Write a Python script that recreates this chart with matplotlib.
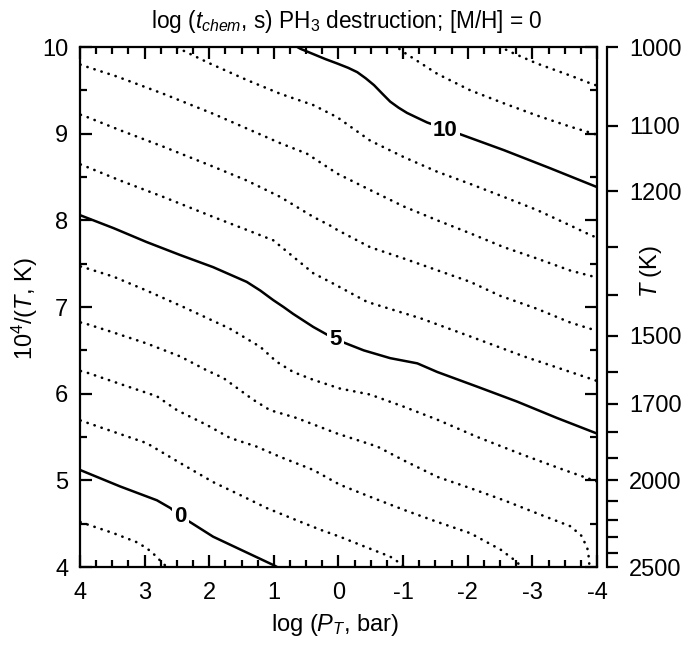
import matplotlib
matplotlib.use('Agg')
import matplotlib.pyplot as plt
import numpy as np

plt.rcParams['font.family'] = ['Liberation Sans', 'DejaVu Sans']
plt.rcParams['mathtext.fontset'] = 'custom'
plt.rcParams['mathtext.rm'] = 'Liberation Sans'
plt.rcParams['mathtext.it'] = 'Liberation Sans:italic'
plt.rcParams['mathtext.bf'] = 'Liberation Sans:bold'
plt.rcParams['axes.unicode_minus'] = False

# ---------------- data: contour lines of log(t_chem, s) ----------------
# each level: log P (bar) samples and the 10^4/T value of the contour there
lp_m1 = [4.1, 4.0, 3.48, 3.1, 2.9, 2.7, 2.6]
y_m1 = [4.55, 4.52, 4.39, 4.28, 4.18, 4.03, 3.97]

lp_0 = [4.1, 4.0, 3.38, 2.81, 2.6, 2.45, 2.30, 1.94, 1.57, 1.0, 0.9]
y_0 = [5.15, 5.12, 4.93, 4.77, 4.68, 4.58, 4.52, 4.35, 4.22, 4.02, 3.98]

lp_1 = [4.1, 3.95, 3.48, 2.97, 2.45, 1.94, 1.52, 1.11, 0.65, 0.28, -0.02, -0.39, -0.80, -0.96, -1.05]
y_1 = [5.72, 5.68, 5.56, 5.43, 5.20, 4.98, 4.83, 4.68, 4.54, 4.43, 4.35, 4.24, 4.12, 4.04, 3.98]

lp_2 = [4.1, 3.92, 3.33, 2.81, 2.50, 2.04, 1.68, 1.27, 0.90, 0.39, -0.02, -0.49, -1.01, -1.53,
        -2.04, -2.51, -2.76, -2.85]
y_2 = [6.28, 6.25, 6.10, 5.97, 5.81, 5.64, 5.49, 5.39, 5.27, 5.12, 4.95, 4.81, 4.66, 4.52,
       4.39, 4.20, 4.06, 3.98]

lp_3 = [4.1, 3.92, 3.54, 2.97, 2.45, 2.04, 1.78, 1.32, 1.06, 0.65, 0.02, -0.60, -1.01, -1.53,
        -2.04, -2.56, -3.07, -3.59, -3.76, -3.85, -3.88, -3.88]
y_3 = [6.84, 6.81, 6.72, 6.58, 6.43, 6.27, 6.18, 5.93, 5.81, 5.72, 5.54, 5.39, 5.23, 5.04,
       4.91, 4.77, 4.62, 4.47, 4.36, 4.22, 4.08, 3.95]

lp_4 = [4.1, 3.95, 3.48, 2.97, 2.40, 1.68, 1.21, 0.96, 0.70, 0.39, -0.02, -0.49, -1.01, -1.53,
        -2.15, -2.87, -3.49, -3.95, -4.1]
y_4 = [7.49, 7.46, 7.35, 7.19, 7.00, 6.75, 6.54, 6.37, 6.25, 6.16, 6.06, 5.99, 5.85, 5.70,
       5.50, 5.29, 5.12, 5.00, 4.96]

lp_5 = [4.1, 4.0, 3.48, 2.97, 2.45, 1.94, 1.42, 1.21, 1.01, 0.85, 0.70, 0.39, 0.15, 0.02,
        -0.39, -0.80, -1.22, -1.53, -2.15, -2.76, -3.38, -4.0, -4.1]
y_5 = [8.09, 8.06, 7.91, 7.75, 7.60, 7.46, 7.29, 7.19, 7.08, 7.00, 6.92, 6.77, 6.67, 6.62,
       6.50, 6.41, 6.35, 6.25, 6.08, 5.91, 5.72, 5.54, 5.51]

lp_6 = [4.1, 3.97, 3.38, 2.71, 1.94, 1.42, 1.01, 0.70, 0.39, 0.08, -0.44, -1.27, -2.04, -2.87,
        -3.59, -3.95, -4.1]
y_6 = [8.67, 8.64, 8.46, 8.27, 8.04, 7.89, 7.77, 7.58, 7.39, 7.27, 7.06, 6.87, 6.66, 6.43,
       6.25, 6.16, 6.12]

lp_7 = [4.1, 3.95, 3.38, 2.71, 1.94, 1.42, 0.90, 0.39, 0.13, 0.02, -0.49, -1.01, -2.04, -2.5,
        -3.07, -3.59, -3.98, -4.1]
y_7 = [9.24, 9.21, 9.04, 8.85, 8.62, 8.46, 8.27, 8.04, 7.94, 7.89, 7.69, 7.56, 7.29, 7.13,
       6.98, 6.82, 6.73, 6.70]

lp_8 = [4.1, 3.97, 3.43, 2.71, 1.94, 1.42, 0.90, 0.49, 0.02, -0.49, -1.01, -1.53, -2.04, -2.56,
        -3.07, -3.59, -3.95, -4.1]
y_8 = [9.83, 9.79, 9.66, 9.46, 9.23, 9.06, 8.89, 8.77, 8.54, 8.35, 8.16, 8.00, 7.85, 7.69,
       7.56, 7.42, 7.35, 7.31]

lp_9 = [2.6, 1.99, 1.42, 0.90, 0.39, 0.02, -0.49, -1.01, -1.53, -2.04, -2.56, -3.07, -3.59,
        -3.90, -4.1]
y_9 = [10.03, 9.81, 9.62, 9.46, 9.33, 9.19, 8.92, 8.73, 8.56, 8.42, 8.27, 8.12, 7.94,
       7.83, 7.77]

lp_10 = [0.75, 0.59, 0.20, 0.02, -0.15, -0.29, -0.42, -0.55, -0.68, -0.80, -0.93, -1.06,
         -1.20, -1.37, -1.63, -1.86, -2.56, -3.28, -3.98, -4.1]
y_10 = [10.05, 9.98, 9.86, 9.81, 9.76, 9.71, 9.64, 9.56, 9.46, 9.37, 9.30, 9.24,
        9.19, 9.13, 9.06, 9.00, 8.81, 8.60, 8.39, 8.35]

lp_11 = [-0.85, -1.01, -1.53, -2.04, -2.56, -3.07, -3.59, -3.95, -4.1]
y_11 = [10.03, 9.94, 9.69, 9.50, 9.35, 9.21, 9.08, 9.00, 8.96]

lp_12 = [-2.5, -2.61, -3.07, -3.59, -3.9, -4.1]
y_12 = [10.02, 9.96, 9.81, 9.67, 9.58, 9.53]

levels = [-1, 0, 1, 2, 3, 4, 5, 6, 7, 8, 9, 10, 11, 12]
solid_levels = [0, 5, 10]

# contour labels
label_levels = [0, 5, 10]
label_logp = [2.45, 0.05, -1.65]
label_y = [4.58, 6.62, 9.04]

# axis ticks
x_ticks = [4, 3, 2, 1, 0, -1, -2, -3, -4]
y_ticks = [4, 5, 6, 7, 8, 9, 10]
T_major = [1000, 1100, 1200, 1500, 1700, 2000, 2500]
T_minor = [1300, 1400, 1600, 1800, 1900, 2100, 2200, 2300, 2400]

curves = {-1: (lp_m1, y_m1), 0: (lp_0, y_0), 1: (lp_1, y_1), 2: (lp_2, y_2),
          3: (lp_3, y_3), 4: (lp_4, y_4), 5: (lp_5, y_5), 6: (lp_6, y_6),
          7: (lp_7, y_7), 8: (lp_8, y_8), 9: (lp_9, y_9), 10: (lp_10, y_10),
          11: (lp_11, y_11), 12: (lp_12, y_12)}

FS = 17

# ---------------- figure ----------------
fig = plt.figure(figsize=(6.85, 6.45), dpi=100)
ax = fig.add_axes([0.1168, 0.1209, 0.7547, 0.8062])

for lev in levels:
    lp, yy = curves[lev]
    if lev in solid_levels:
        ax.plot(lp, yy, color='black', lw=1.8, solid_capstyle='round',
                solid_joinstyle='round', zorder=3)
    else:
        ax.plot(lp, yy, color='black', lw=1.9, linestyle=(0, (0.1, 2.7)),
                dash_capstyle='round', zorder=2)

for lev, lx, ly in zip(label_levels, label_logp, label_y):
    ax.text(lx, ly, str(lev), ha='center', va='center', fontsize=16, fontweight='bold',
            bbox=dict(boxstyle='square,pad=0.1', fc='white', ec='none'), zorder=5)

ax.set_xlim(4, -4)
ax.set_ylim(4, 10)
ax.set_xticks(x_ticks)
ax.set_xticklabels([str(v) for v in x_ticks])
ax.set_xticks(np.arange(-4, 4.01, 0.25), minor=True)
ax.set_yticks(y_ticks)
ax.set_yticklabels([str(v) for v in y_ticks])
ax.set_yticks(np.arange(4, 10.01, 0.5), minor=True)

for sp in ax.spines.values():
    sp.set_linewidth(1.6)

ax.set_xlabel(r'log ($P_T$, bar)', fontsize=FS)
ax.set_ylabel(r'10$^4$/($T$, K)', fontsize=FS)
ax.yaxis.set_label_coords(-0.077, 0.496)
ax.xaxis.set_label_coords(0.494, -0.086)

# right temperature axis
ax2 = ax.twinx()
ax2.set_ylim(4, 10)
for s in ['top', 'left', 'bottom']:
    ax2.spines[s].set_visible(False)
ax2.spines['right'].set_position(('outward', 7))
ax2.spines['right'].set_linewidth(1.6)
ax2.set_yticks([1e4 / t for t in T_major])
ax2.set_yticklabels([str(t) for t in T_major])
ax2.set_yticks([1e4 / t for t in T_minor], minor=True)
ax2.tick_params(which='both', direction='out', length=8, width=1.6, labelsize=FS, pad=8)
ax2.set_ylabel(r'$T$ (K)', fontsize=FS, rotation=90)
ax2.yaxis.set_label_coords(1.079, 0.569)

ax.tick_params(which='both', direction='in', top=True, right=True, bottom=True, left=True,
               width=1.6, labelsize=FS)
ax.tick_params(which='major', length=8.5)
ax.tick_params(which='minor', length=4.7)
ax.tick_params(axis='y', which='major', pad=8.5)
ax.tick_params(axis='x', which='major', pad=10.5)

fig.text(347 / 685, 1 - 28 / 645, r'log ($t_{chem}$, s) PH$_3$ destruction; [M/H] = 0',
         ha='center', va='baseline', fontsize=16.3)

fig.savefig('out.png', dpi=100)
